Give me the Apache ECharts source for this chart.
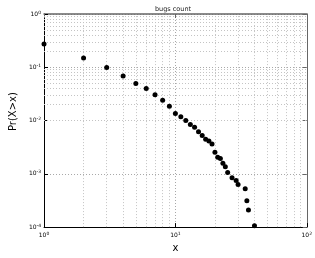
<!DOCTYPE html>
<html><head><meta charset="utf-8">
<script src="https://cdn.jsdelivr.net/npm/echarts@6/dist/echarts.min.js"></script>
<style>html,body{margin:0;padding:0;background:#fff}#c{width:315px;height:258px}</style>
</head><body><div id="c"></div>
<script>
var xValues = [1,2,3,4,5,6,7,8,9,10,11,12,13,14,15,16,17,18,19,20,21,22,23,24,25,27,29,30,34,35,36,40];
var yValues = [0.273,0.15,0.0986,0.0686,0.0497,0.0398,0.0306,0.0241,0.0185,0.0136,0.0118,0.0100,0.00846,0.00746,0.00614,0.00526,0.00446,0.00415,0.00361,0.00255,0.00204,0.00193,0.00158,0.00136,0.00106,0.000846,0.000746,0.000631,0.000527,0.000314,0.00021,0.000106];
var xMinorGrid = [2,3,4,5,6,7,8,9,20,30,40,50,60,70,80,90];
var yMinorGrid = [0.0002,0.0003,0.0004,0.0005,0.0006,0.0007,0.0008,0.0009,0.002,0.003,0.004,0.005,0.006,0.007,0.008,0.009,0.02,0.03,0.04,0.05,0.06,0.07,0.08,0.09,0.2,0.3,0.4,0.5,0.6,0.7,0.8,0.9];
var titleText = 'bugs count';
var xName = 'x';
var yName = 'Pr(X>x)';

function expLabel(v){
  var e = Math.round(Math.log10(v));
  return '{b|10}{s|' + e + '}';
}
var rich = {b:{fontSize:6,color:'#000',fontFamily:'DejaVu Sans'}, s:{fontSize:4.5,color:'#000',verticalAlign:'top',padding:[0,0,3,0],fontFamily:'DejaVu Sans'}};

var gridLine = {type:[1,2], color:'#c4c4c4', width:1};
var markData = [];
xMinorGrid.forEach(function(v){ markData.push({xAxis:v}); });
yMinorGrid.forEach(function(v){ markData.push({yAxis:v}); });

var chart = echarts.init(document.getElementById('c'));
chart.setOption({
  animation:false,
  title:{text:titleText,left:168,top:1,textAlign:'center',textStyle:{fontSize:6.5,fontWeight:'normal',color:'#222',fontFamily:'DejaVu Sans'}},
  grid:{left:29,right:7,top:14,bottom:24},
  xAxis:[{type:'log',logBase:10,min:1,max:100,position:'bottom',
    name:xName,nameLocation:'middle',nameGap:15,nameTextStyle:{fontSize:10,color:'#000',fontFamily:'DejaVu Sans'},
    axisLine:{lineStyle:{color:'#000',width:1}},
    axisTick:{inside:true,length:4,lineStyle:{color:'#000'}},
    axisLabel:{formatter:expLabel,rich:rich,margin:4},
    splitLine:{show:true,lineStyle:{type:[1,2],color:'#a8a8a8',width:1}}},
    {type:'log',logBase:10,min:1,max:100,position:'top',
    axisLine:{lineStyle:{color:'#666',width:1.5}},axisTick:{inside:true,length:4,lineStyle:{color:'#666'}},axisLabel:{show:false},splitLine:{show:false}}],
  yAxis:[{type:'log',logBase:10,min:0.0001,max:1,position:'left',
    name:yName,nameLocation:'middle',nameGap:17,nameTextStyle:{fontSize:10,color:'#000',fontFamily:'DejaVu Sans',padding:[0,0,0,18]},
    axisLine:{lineStyle:{color:'#000',width:1}},
    axisTick:{inside:true,length:4,lineStyle:{color:'#000'}},
    axisLabel:{formatter:expLabel,rich:rich,margin:3},
    splitLine:{show:true,lineStyle:{type:[1,2],color:'#a8a8a8',width:1}}},
    {type:'log',logBase:10,min:0.0001,max:1,position:'right',
    axisLine:{lineStyle:{color:'#666',width:1}},axisTick:{inside:true,length:4,lineStyle:{color:'#666'}},axisLabel:{show:false},splitLine:{show:false}}],
  series:[{type:'scatter',xAxisIndex:0,yAxisIndex:0,symbol:'circle',symbolSize:5,
    itemStyle:{color:'#000',opacity:1},
    data:xValues.map(function(x,i){return [x,yValues[i]];}),
    markLine:{silent:true,symbol:['none','none'],label:{show:false},lineStyle:gridLine,emphasis:{disabled:true},data:markData,animation:false},
    z:5}]
});
</script></body></html>
